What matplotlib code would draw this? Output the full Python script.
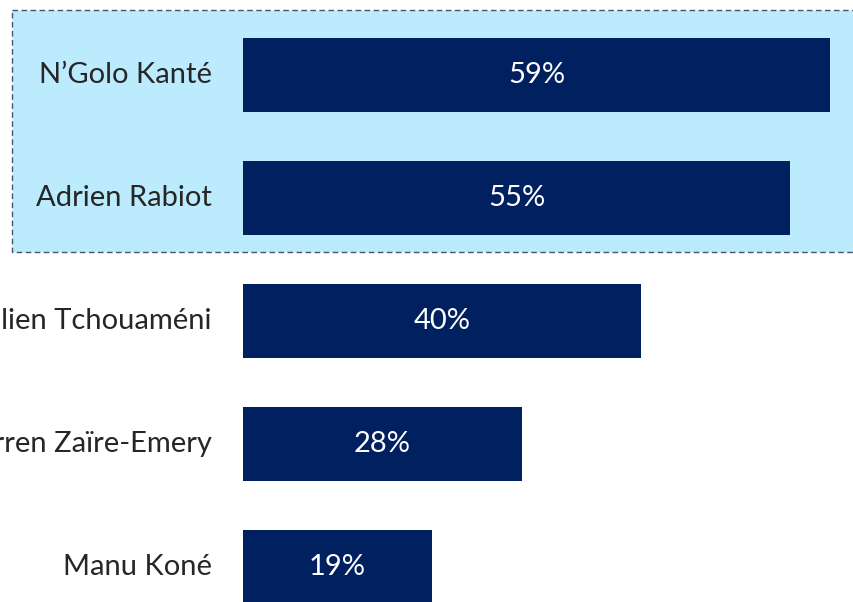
import matplotlib
matplotlib.use("Agg")
import matplotlib.pyplot as plt
from matplotlib.patches import Rectangle

players = ["N\u2019Golo Kant\u00e9", "Adrien Rabiot", "Aur\u00e9lien Tchouam\u00e9ni",
           "Warren Za\u00efre-Emery", "Manu Kon\u00e9"]
shares = [59, 55, 40, 28, 19]
highlighted = [0, 1]

bar_color = "#002060"
box_color = "#BBEBFD"

plt.rcParams['font.family'] = ['Lato', 'DejaVu Sans']

fig = plt.figure(figsize=(8.54, 6.02), dpi=100)
ax = fig.add_axes([0, 0, 1, 1])

# scale: ~9.95 px per percent, bars start at px 243, rows 123 px apart
px = 9.95
ax.set_xlim(-243 / px, (854 - 243) / px)
ax.set_ylim((602 - 75) / 123, -75 / 123)

ys = list(range(len(players)))
ax.barh(ys, shares, height=0.6, color=bar_color, zorder=3)

for y, name, v in zip(ys, players, shares):
    ax.text(-31 / px, y, name, ha='right', va='center', fontsize=21,
            color='#262626', zorder=4)
    ax.text(v / 2, y, "%d%%" % v, ha='center', va='center', fontsize=21,
            color='white', zorder=4)

# highlight box round the top two rows
top = min(highlighted) - 0.53
bottom = max(highlighted) + 0.44
ax.add_patch(Rectangle((-231 / px, top), 90, bottom - top, facecolor=box_color,
                       edgecolor='#44546A', linestyle=(0, (4, 2.5)), linewidth=1,
                       zorder=1))

ax.axis('off')
fig.savefig("out.png", dpi=100)
